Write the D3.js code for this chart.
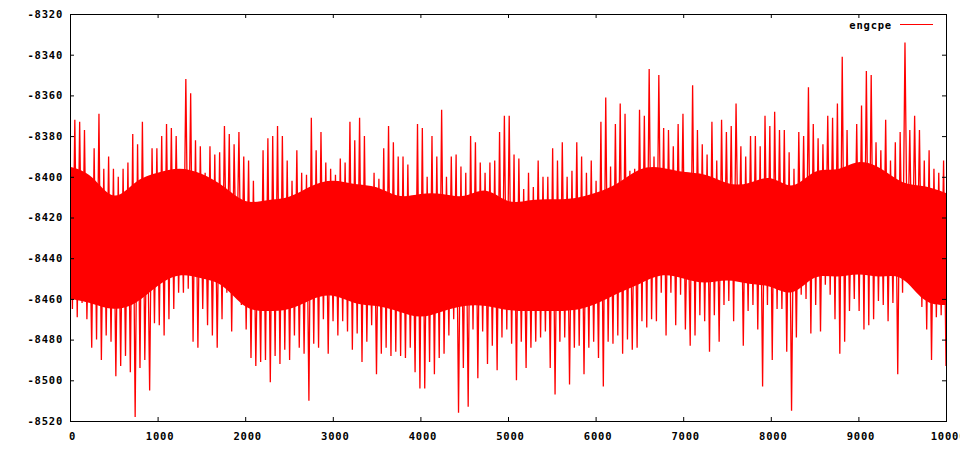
<!DOCTYPE html>
<html>
<head>
<meta charset="utf-8">
<script src="https://cdn.jsdelivr.net/npm/d3@7"></script>
<style>
  body { margin: 0; background: #fff; }
  text { font-family: "DejaVu Sans Mono", monospace; font-weight: bold; font-size: 10.5px; letter-spacing: 0.8px; fill: #000; }
</style>
</head>
<body>
<script>
// series name
var seriesName = "engcpe";

// local highs / lows of the trace left to right
var highs = [-8392,-8372,-8373,-8377,-8411,-8386,-8369,-8396,-8390,-8396,-8400,-8396,-8393,-8379,-8384,-8373,-8409,-8386,-8386,-8380,-8374,-8376,-8380,
  -8400,-8352,-8359,-8382,-8385,-8398,-8385,-8389,-8388,-8375,-8379,-8384,-8378,-8390,-8392,-8402,-8413,-8387,-8381,-8380,-8375,-8380,-8392,-8402,
  -8387,-8398,-8399,-8371,-8387,-8378,-8393,-8396,-8399,-8391,-8393,-8373,-8382,-8371,-8380,-8405,-8398,-8401,-8386,-8375,-8383,-8390,-8390,
  -8394,-8411,-8374,-8376,-8400,-8380,-8390,-8367,-8400,-8390,-8389,-8395,-8398,-8380,-8383,-8393,-8398,-8393,-8392,-8378,-8370,-8370,
  -8389,-8391,-8406,-8398,-8405,-8392,-8400,-8400,-8386,-8392,-8383,-8400,-8397,-8383,-8390,-8398,-8392,-8402,-8373,-8361,-8395,-8374,
  -8364,-8369,-8397,-8396,-8367,-8370,-8347,-8390,-8350,-8376,-8377,-8385,-8374,-8369,-8409,-8355,-8377,-8384,-8389,-8373,-8392,-8372,-8378,
  -8375,-8364,-8385,-8390,-8380,-8380,-8385,-8370,-8375,-8368,-8377,-8377,-8388,-8396,-8378,-8380,-8356,-8374,-8381,-8384,-8370,-8371,
  -8364,-8341,-8377,-8400,-8374,-8365,-8348,-8350,-8383,-8387,-8372,-8392,-8383,-8378,-8334,-8377,-8370,-8377,-8392,-8387,-8396,-8398,-8392];

var lows = [-8465,-8469,-8462,-8470,-8484,-8480,-8490,-8478,-8481,-8498,-8493,-8488,-8496,-8518,-8494,-8490,-8505,-8472,-8473,-8478,-8470,-8465,-8457,
  -8457,-8455,-8481,-8484,-8465,-8473,-8478,-8484,-8470,-8457,-8476,-8453,-8463,-8475,-8489,-8493,-8491,-8490,-8501,-8488,-8492,-8485,-8490,-8478,
  -8484,-8487,-8510,-8482,-8484,-8470,-8487,-8471,-8478,-8471,-8476,-8485,-8477,-8491,-8481,-8473,-8497,-8487,-8484,-8488,-8486,-8488,-8489,
  -8484,-8496,-8504,-8504,-8491,-8497,-8489,-8487,-8478,-8470,-8516,-8494,-8513,-8475,-8499,-8476,-8492,-8483,-8495,-8479,-8475,-8482,
  -8500,-8481,-8494,-8484,-8481,-8479,-8476,-8494,-8507,-8481,-8479,-8502,-8484,-8483,-8497,-8484,-8481,-8489,-8503,-8481,-8482,-8478,
  -8487,-8480,-8485,-8484,-8471,-8474,-8470,-8471,-8457,-8478,-8457,-8473,-8458,-8475,-8483,-8478,-8468,-8471,-8486,-8468,-8481,-8463,-8461,
  -8471,-8449,-8483,-8466,-8463,-8475,-8503,-8463,-8490,-8465,-8465,-8486,-8515,-8479,-8458,-8460,-8477,-8463,-8476,-8453,-8458,-8470,
  -8487,-8481,-8466,-8460,-8466,-8475,-8473,-8470,-8461,-8463,-8471,-8462,-8497,-8457,-8445,-8453,-8453,-8464,-8475,-8490,-8469,-8468,-8493];

// edges of the mostly solid part of the trace, every 250 steps
var bandX = [0,250,500,750,1000,1250,1500,1750,2000,2250,2500,2750,3000,3250,3500,3750,4000,4250,4500,4750,
  5000,5250,5500,5750,6000,6250,6500,6750,7000,7250,7500,7750,8000,8250,8500,8750,9000,9250,9500,9750,10000];
var bandTop = [-8395,-8398,-8414,-8401,-8398,-8395,-8398,-8404,-8414,-8411,-8411,-8404,-8401,-8404,-8404,-8411,-8408,-8408,-8411,-8404,
  -8414,-8411,-8411,-8411,-8408,-8404,-8395,-8395,-8398,-8398,-8404,-8404,-8398,-8408,-8395,-8398,-8391,-8395,-8404,-8404,-8408];
var bandBot = [-8460,-8462,-8466,-8463,-8453,-8447,-8450,-8452,-8466,-8466,-8466,-8460,-8457,-8463,-8463,-8466,-8470,-8466,-8463,-8463,
  -8466,-8466,-8466,-8466,-8463,-8457,-8453,-8447,-8450,-8453,-8450,-8453,-8453,-8460,-8447,-8450,-8447,-8450,-8447,-8463,-8463];

var xTicks = [0, 1000, 2000, 3000, 4000, 5000, 6000, 7000, 8000, 9000, 10000];
var yTicks = [-8520, -8500, -8480, -8460, -8440, -8420, -8400, -8380, -8360, -8340, -8320];

var W = 960, H = 450;
var plotL = 70, plotR = 946, plotT = 14, plotB = 421;

var svg = d3.select("body").append("svg")
    .attr("width", W)
    .attr("height", H);

var x = d3.scaleLinear().domain([0, 10000]).range([plotL, plotR]);
var y = d3.scaleLinear().domain([-8520, -8320]).range([plotB, plotT]);

// interleave high / low so the trace zigzags like the raw samples
var pts = [];
highs.forEach(function(h, i) {
  pts.push(h);
  pts.push(lows[i]);
});
var step = 10000 / (pts.length - 1);

var line = d3.line()
    .x(function(d, i) { return x(i * step); })
    .y(function(d) { return y(d); });

var band = d3.area()
    .curve(d3.curveBasis)
    .x(function(d, i) { return x(bandX[i]); })
    .y0(function(d, i) { return y(bandBot[i]); })
    .y1(function(d, i) { return y(bandTop[i]); });

svg.append("defs").append("clipPath").attr("id", "clip")
  .append("rect")
    .attr("x", plotL).attr("y", plotT)
    .attr("width", plotR - plotL).attr("height", plotB - plotT);

var plot = svg.append("g").attr("clip-path", "url(#clip)");

plot.append("path")
    .datum(bandX)
    .attr("fill", "#ff0000")
    .attr("d", band);

plot.append("path")
    .datum(pts)
    .attr("fill", "none")
    .attr("stroke", "#ff0000")
    .attr("stroke-width", 1.3)
    .attr("d", line);

// axes, gnuplot style: ticks pointing inward, mirrored on all sides
function fmt(d) { return String(d); }

var gx = svg.append("g")
    .attr("transform", "translate(0," + plotB + ")")
    .call(d3.axisBottom(x).tickValues(xTicks).tickFormat(fmt).tickSizeInner(-4).tickSizeOuter(0).tickPadding(12));
var gxt = svg.append("g")
    .attr("transform", "translate(0," + plotT + ")")
    .call(d3.axisTop(x).tickValues(xTicks).tickFormat("").tickSizeInner(-4).tickSizeOuter(0));
var gy = svg.append("g")
    .attr("transform", "translate(" + plotL + ",0)")
    .call(d3.axisLeft(y).tickValues(yTicks).tickFormat(fmt).tickSizeInner(-4).tickSizeOuter(0).tickPadding(7));
var gyr = svg.append("g")
    .attr("transform", "translate(" + plotR + ",0)")
    .call(d3.axisRight(y).tickValues(yTicks).tickFormat("").tickSizeInner(-4).tickSizeOuter(0));

[gx, gxt, gy, gyr].forEach(function(g) {
  g.select(".domain").remove();
  g.selectAll("line").attr("stroke", "#000");
  g.selectAll("text")
    .style("font-family", "'DejaVu Sans Mono', monospace")
    .style("font-size", "10.5px")
    .style("font-weight", "bold");
});
gx.selectAll("text").attr("dx", "2");

svg.append("rect")
    .attr("x", plotL + 0.5)
    .attr("y", plotT + 0.5)
    .attr("width", plotR - plotL)
    .attr("height", plotB - plotT)
    .attr("fill", "none")
    .attr("stroke", "#000")
    .attr("stroke-width", 1);

// legend
svg.append("text")
    .attr("x", 892)
    .attr("y", 25)
    .attr("dy", "0.35em")
    .attr("text-anchor", "end")
    .text(seriesName);
svg.append("line")
    .attr("x1", 900).attr("x2", 933)
    .attr("y1", 24.5).attr("y2", 24.5)
    .attr("stroke", "#ff0000")
    .attr("stroke-width", 1);
</script>
</body>
</html>
